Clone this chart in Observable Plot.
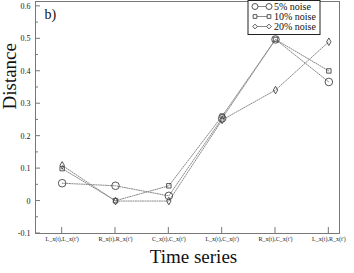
<!DOCTYPE html>
<html>
<head>
<meta charset="utf-8">
<script src="https://cdn.jsdelivr.net/npm/d3@7"></script>
<script src="https://cdn.jsdelivr.net/npm/@observablehq/plot@0.6"></script>
<style>
  html, body { margin: 0; padding: 0; background: #fff; }
  svg { display: block; }
  svg text { font-family: "Liberation Serif", "Times New Roman", serif !important; }
</style>
</head>
<body>
<div id="chart"></div>
<script>
const categories = ["L_x(t),L_x(t')", "R_x(t),R_x(t')", "C_x(t),C_x(t')", "L_x(t),C_x(t')", "R_x(t),C_x(t')", "L_x(t),R_x(t')"];
const seriesNames = ["5% noise", "10% noise", "20% noise"];
const noise5  = [0.055, 0.047, 0.016, 0.255, 0.498, 0.367];
const noise10 = [0.100, 0.001, 0.047, 0.262, 0.498, 0.401];
const noise20 = [0.110, 0.000, 0.000, 0.250, 0.342, 0.491];
const yTicks = [-0.1, 0, 0.1, 0.2, 0.3, 0.4, 0.5, 0.6];
const yMinorTicks = [-0.05, 0.05, 0.15, 0.25, 0.35, 0.45, 0.55];
const symbols = ["circle", "square", "diamond"];
const symbolR = [3.8, 2.5, 2.3];

const seriesValues = [noise5, noise10, noise20];
const data = seriesValues.flatMap((vals, s) =>
  vals.map((v, i) => ({series: seriesNames[s], s, pos: i + 1, value: v})));

const font = "Liberation Serif";
const axisColor = "#777";
const lineColor = "#8a8a8a";
const markColor = "#444";

function ticksMark(index, scales, values, dims) {
  const g = d3.create("svg:g").attr("stroke", axisColor).attr("stroke-width", 1);
  const x0 = dims.marginLeft;
  const yb = dims.height - dims.marginBottom;
  for (const t of yTicks) {
    const y = scales.y(t);
    g.append("line").attr("x1", x0).attr("x2", x0 + 5).attr("y1", y).attr("y2", y);
  }
  for (const t of yMinorTicks) {
    const y = scales.y(t);
    g.append("line").attr("x1", x0).attr("x2", x0 + 3).attr("y1", y).attr("y2", y);
  }
  categories.forEach((c, i) => {
    const x = scales.x(i + 1);
    g.append("line").attr("x1", x).attr("x2", x).attr("y1", yb).attr("y2", yb - 6);
  });
  return g.node();
}

function legendMark(index, scales, values, dims) {
  const right = dims.width - dims.marginRight;
  const bx = right - 91, by = 0.5, bw = 72, bh = 34;
  const g = d3.create("svg:g").attr("class", "legend");
  g.append("rect").attr("x", bx).attr("y", by).attr("width", bw).attr("height", bh)
    .attr("fill", "white").attr("stroke", "#222").attr("stroke-width", 1);
  seriesNames.forEach((name, s) => {
    const cy = by + 6 + s * 10;
    const xa = bx + 7, xb = bx + 21;
    g.append("line").attr("x1", xa).attr("x2", xb).attr("y1", cy).attr("y2", cy)
      .attr("stroke", lineColor).attr("stroke-width", 1);
    const size = [28, 14, 14][s];
    const sym = [d3.symbolCircle, d3.symbolSquare, d3.symbolDiamond2][s];
    for (const xx of [xa, xb]) {
      g.append("path").attr("d", d3.symbol(sym, size)())
        .attr("transform", `translate(${xx},${cy})`)
        .attr("fill", "white").attr("stroke", markColor).attr("stroke-width", 0.9);
    }
    g.append("text").attr("x", bx + 26).attr("y", cy).attr("dy", "0.35em")
      .attr("text-anchor", "start")
      .attr("font-family", font).attr("font-size", 10).attr("fill", "#111").text(name);
  });
  return g.node();
}

const chart = Plot.plot({
  width: 354,
  height: 273,
  marginLeft: 35,
  marginRight: 15,
  marginTop: 1,
  marginBottom: 40,
  style: {fontFamily: font, background: "white", overflow: "visible"},
  x: {type: "linear", domain: [0.5, 6.2], axis: null},
  y: {domain: [-0.1, 0.615], axis: null},
  marks: [
    Plot.line(data, {x: "pos", y: "value", z: "series", stroke: lineColor, strokeWidth: 1, strokeDasharray: "1.2,1.2"}),
    ...symbols.map((sym, s) =>
      Plot.dot(data.filter(d => d.s === s), {x: "pos", y: "value", symbol: () => sym, r: symbolR[s], fill: "none", stroke: markColor, strokeWidth: 0.9})),
    Plot.frame({stroke: axisColor, strokeWidth: 1}),
    ticksMark,
    Plot.text(yTicks, {x: () => 0.5, y: d => d, text: d => d3.format("")(+d.toFixed(1)).replace("−", "-"), textAnchor: "end", dx: -5, fontSize: 8, fontFamily: font, fill: "#222"}),
    Plot.text(categories, {x: (d, i) => i + 1, y: () => -0.1, text: d => d, dy: 3, lineAnchor: "top", fontSize: 6, fontFamily: font, fill: "#222"}),
    Plot.text(["Time series"], {frameAnchor: "bottom", dx: 6, dy: 29, text: d => d, fontSize: 19, fontFamily: font, fill: "#111"}),
    Plot.text(["Distance"], {frameAnchor: "left", rotate: -90, dx: -26, dy: -8, text: d => d, fontSize: 19, fontFamily: font, fill: "#111"}),
    Plot.text(["b)"], {frameAnchor: "top-left", dx: 9, dy: 8, textAnchor: "start", text: d => d, fontSize: 14, fontFamily: font, fill: "#111"}),
    legendMark
  ]
});
document.getElementById("chart").appendChild(chart);
</script>
</body>
</html>
